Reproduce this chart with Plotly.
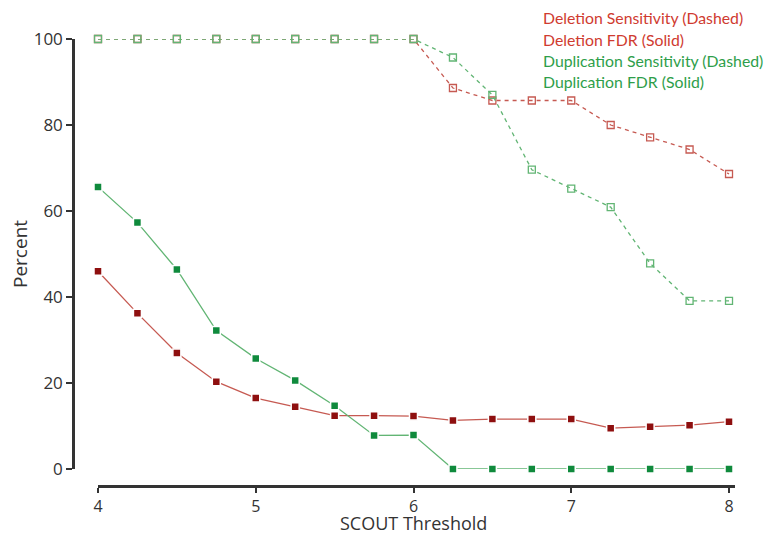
import plotly.graph_objects as go

thresholds = [4, 4.25, 4.5, 4.75, 5, 5.25, 5.5, 5.75, 6, 6.25, 6.5, 6.75, 7, 7.25, 7.5, 7.75, 8]

del_sensitivity = [100, 100, 100, 100, 100, 100, 100, 100, 100, 88.6, 85.7, 85.7, 85.7, 80.0, 77.1, 74.3, 68.6]
del_fdr = [46.0, 36.2, 27.0, 20.3, 16.5, 14.5, 12.4, 12.4, 12.3, 11.3, 11.6, 11.6, 11.6, 9.5, 9.8, 10.2, 11.0]
dup_sensitivity = [100, 100, 100, 100, 100, 100, 100, 100, 100, 95.7, 87.0, 69.6, 65.2, 60.9, 47.8, 39.1, 39.1]
dup_fdr = [65.6, 57.3, 46.4, 32.2, 25.7, 20.6, 14.7, 7.8, 7.9, 0, 0, 0, 0, 0, 0, 0, 0]

y_ticks = [0, 20, 40, 60, 80, 100]
x_ticks = [4, 5, 6, 7, 8]

x_title = "SCOUT Threshold"
y_title = "Percent"
names = ["Deletion Sensitivity (Dashed)", "Deletion FDR (Solid)",
         "Duplication Sensitivity (Dashed)", "Duplication FDR (Solid)"]

RED_LINE = "#c65a52"
RED_MARK = "#8e0f0f"
RED_TEXT = "#cf3b30"
GREEN_LINE = "#62b574"
GREEN_MARK = "#0f8a3c"
GREEN_TEXT = "#2e9e4a"
AXIS = "#333333"
FONT = "Open Sans"
LEG_FONT = "Lato"

fig = go.Figure()

fig.add_trace(go.Scatter(x=thresholds, y=del_sensitivity, mode="lines+markers", name=names[0],
                         line=dict(color=RED_LINE, width=1.3, dash="4px,4px"),
                         marker=dict(symbol="square-open", size=7, color=RED_LINE, line=dict(width=1.3)),
                         cliponaxis=False))
fig.add_trace(go.Scatter(x=thresholds, y=dup_sensitivity, mode="lines+markers", name=names[2],
                         line=dict(color=GREEN_LINE, width=1.3, dash="4px,4px"),
                         marker=dict(symbol="square-open", size=7, color=GREEN_LINE, line=dict(width=1.3)),
                         cliponaxis=False))
fig.add_trace(go.Scatter(x=thresholds, y=del_fdr, mode="lines+markers", name=names[1],
                         line=dict(color=RED_LINE, width=1.3),
                         marker=dict(symbol="square", size=8, color=RED_MARK, line=dict(color="white", width=1.5)),
                         cliponaxis=False))
fig.add_trace(go.Scatter(x=thresholds, y=dup_fdr, mode="lines+markers", name=names[3],
                         line=dict(color=GREEN_LINE, width=1.3),
                         marker=dict(symbol="square", size=8, color=GREEN_MARK, line=dict(color="white", width=1.5)),
                         cliponaxis=False))

# page body adds an 8px offset; work in reference pixels minus 8
OFF = 8
W, H = 775 - 2 * OFF, 544 - 2 * OFF


def px(v):
    return (v - OFF) / W


def py(v):
    return 1 - (v - OFF) / H


fig.update_layout(
    width=W, height=H,
    margin=dict(l=0, r=0, t=0, b=0),
    paper_bgcolor="white", plot_bgcolor="white",
    showlegend=False,
    font=dict(family=FONT, color=AXIS),
    xaxis=dict(domain=[px(98), px(735)], range=[4, 8.038], anchor="free", position=py(486),
               tickvals=x_ticks, ticktext=[str(t) for t in x_ticks],
               showline=True, linecolor=AXIS, linewidth=2.5, showgrid=False, zeroline=False,
               ticks="outside", ticklen=5, tickwidth=2, tickcolor=AXIS,
               tickfont=dict(size=16, color=AXIS), automargin=False),
    yaxis=dict(domain=[py(469), py(39)], range=[0, 100], anchor="free", position=px(73),
               tickvals=y_ticks, ticktext=[str(t) for t in y_ticks],
               showline=True, linecolor=AXIS, linewidth=2.5, showgrid=False, zeroline=False,
               ticks="outside", ticklen=6, tickwidth=2, tickcolor=AXIS,
               tickfont=dict(size=17, color=AXIS), automargin=False),
)

# axis titles
fig.add_annotation(text=x_title, xref="paper", yref="paper", x=px(413), y=py(536),
                   xanchor="center", yanchor="bottom", showarrow=False, borderpad=0,
                   font=dict(size=18, color=AXIS, family=FONT))
fig.add_annotation(text=y_title, xref="paper", yref="paper", x=px(20), y=py(254),
                   xanchor="center", yanchor="middle", showarrow=False, textangle=-90,
                   font=dict(size=19, color=AXIS, family=FONT))

legend_colors = [RED_TEXT, RED_TEXT, GREEN_TEXT, GREEN_TEXT]
for i, (nm, col) in enumerate(zip(names, legend_colors)):
    fig.add_annotation(text=nm, xref="paper", yref="paper", x=px(541), y=py(18 + 21.3 * i),
                       xanchor="left", yanchor="middle", showarrow=False,
                       font=dict(size=15.8, color=col, family=LEG_FONT))

fig.write_html("out.html")
